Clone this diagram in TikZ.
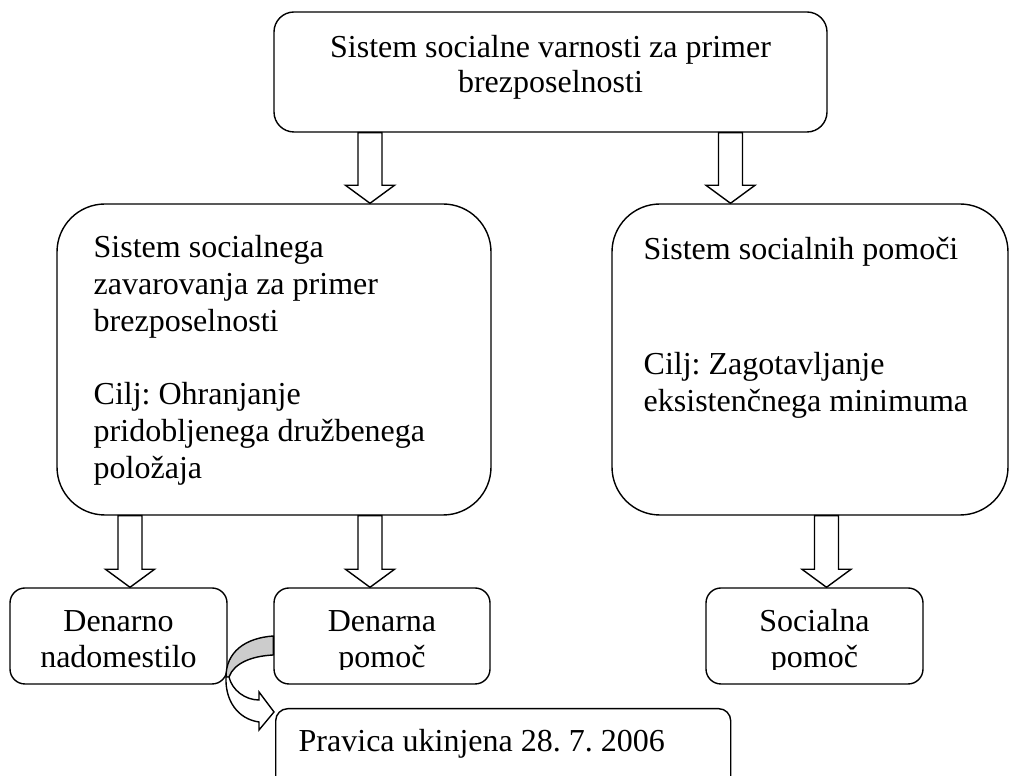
\documentclass[tikz,border=0pt]{standalone}
\usepackage{fontspec}
\setmainfont{Liberation Serif}
\usetikzlibrary{calc}
\frenchspacing
\tikzset{
  box/.style={draw, rounded corners=#1, inner sep=0pt},
  blockarr/.style={draw, fill=white, line join=miter},
  txt/.style={inner sep=0pt, font=\fontsize{32}{36.7}\selectfont\frenchspacing},
  band/.style={draw, fill=gray!40, line join=round},
  curvearr/.style={draw, fill=white, line join=miter},
}
\newcommand\blockarrow[3]{%
  \draw[blockarr] ($(#1 |- #2.south)+(-12,0)$) -- ($(#1 |- #3.north)+(-12,18)$)
    -- ($(#1 |- #3.north)+(-24.5,18)$) -- (#1 |- #3.north)
    -- ($(#1 |- #3.north)+(24.5,18)$) -- ($(#1 |- #3.north)+(12,18)$)
    -- ($(#1 |- #2.south)+(12,0)$) -- cycle;}
\begin{document}
\begin{tikzpicture}[x=1pt, y=1pt, line width=1.4pt]
\useasboundingbox (0,0) rectangle (1010,776);

% boxes
\node[box=20pt, minimum width=553pt, minimum height=120pt] (top) at (550.5,704) {};
\node[box=48pt, minimum width=434pt, minimum height=311pt] (lft) at (274,416.5) {};
\node[box=48pt, minimum width=396pt, minimum height=311pt] (rgt) at (810,416.5) {};
\node[box=15pt, minimum width=217pt, minimum height=96pt] (dn) at (118.5,140) {};
\node[box=15pt, minimum width=216pt, minimum height=96pt] (dp) at (382,140) {};
\node[box=15pt, minimum width=217pt, minimum height=96pt] (sp) at (814.5,140) {};
\node[box=12pt, minimum width=455pt, minimum height=100pt, anchor=north west] (pr) at (275,68) {};

% texts
\node[txt, anchor=base] (ttop) at (550.5,718)
  {\parbox[t]{540pt}{\centering Sistem socialne varnosti za primer\\[-1.7pt] brezposelnosti}};
\node[txt, anchor=base west] (tlft) at (93,518)
  {\parbox[t]{380pt}{\raggedright Sistem socialnega\\ zavarovanja za primer\\ brezposelnosti\\[36.7pt] Cilj: Ohranjanje\\ pridobljenega družbenega\\ položaja}};
\node[txt, anchor=base west] (trgt) at (643,516)
  {\parbox[t]{360pt}{\raggedright Sistem socialnih pomoči\\[78pt] Cilj: Zagotavljanje\\ eksistenčnega minimuma}};
\begin{scope}
  \clip (0,106) rectangle (1010,200);
  \node[txt, anchor=base] (tdn) at (118.5,144) {\parbox[t]{210pt}{\centering Denarno\\[-0.7pt] nadomestilo}};
  \node[txt, anchor=base] (tdp) at (382,144) {\parbox[t]{210pt}{\centering Denarna\\[-0.7pt] pomoč}};
  \node[txt, anchor=base] (tsp) at (814.5,144) {\parbox[t]{210pt}{\centering Socialna\\[-0.7pt] pomoč}};
\end{scope}
\node[txt, anchor=base west] (tpr) at (298,24) {Pravica ukinjena 28. 7. 2006};

% block arrows
\coordinate (ax1) at (370,0);
\coordinate (ax2) at (730.5,0);
\coordinate (ax3) at (130,0);
\coordinate (ax4) at (826.5,0);
\blockarrow{ax1}{top}{lft}
\blockarrow{ax2}{top}{rgt}
\blockarrow{ax3}{lft}{dn}
\blockarrow{ax1}{lft}{dp}
\blockarrow{ax4}{rgt}{sp}

% curved arrow from Denarna pomoc to Pravica
\coordinate (pa) at (dp.west);
\coordinate (pb) at ($(dp.west)+(0,-19)$);
\coordinate (p1) at (226,99);
\coordinate (p2) at (229,99);
\coordinate (tip) at ($(pr.north west)+(-1,-4)$);
\path[band] (pa) .. controls (245,138) and (226,124) .. (p1) -- (p2)
  .. controls (234,113) and (252,120) .. (pb) -- cycle;
\path[curvearr] (p1) .. controls (225,75) and (238,57) .. (259,54)
  -- (259,46) -- (tip) -- (259,84) -- (259,76)
  .. controls (245,76) and (232,86) .. (p2) -- cycle;
\end{tikzpicture}
\end{document}
